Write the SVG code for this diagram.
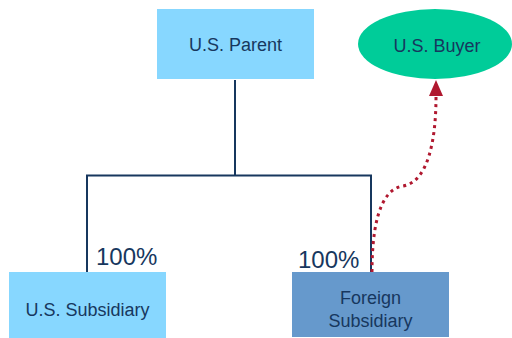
<svg xmlns="http://www.w3.org/2000/svg" width="512" height="338" viewBox="0 0 512 338">
<defs>
<style>
.t{font-family:"Liberation Sans",Arial,sans-serif;font-size:18px;fill:#17375E;text-anchor:middle}
.p{font-family:"Liberation Sans",Arial,sans-serif;font-size:24px;fill:#17375E}
.ln{fill:none;stroke:#17375E;stroke-width:2}
</style>
<marker id="ah" markerWidth="16" markerHeight="16" viewBox="0 0 16 16" refX="16" refY="8" orient="auto" markerUnits="userSpaceOnUse">
<path d="M0,1 L16,8 L0,15 Z" fill="#B0182F"/>
</marker>
</defs>
<rect width="512" height="338" fill="#FFFFFF"/>
<g id="connectors">
<path class="ln" d="M235,80 V175.5 M87,272 V175.5 H371 V272"/>
<path d="M372,272 C372,235 377,190 403,186 C428,182 436,140 436,97" fill="none" stroke="#B0182F" stroke-width="3" stroke-dasharray="3,4"/>
<path d="M436,80 L443,96 L429,96 Z" fill="#B0182F"/>
</g>
<g id="us-parent">
<rect x="157" y="9" width="157" height="70" fill="#87D7FF"/>
<text class="t" x="235.5" y="51">U.S. Parent</text>
</g>
<g id="us-buyer">
<ellipse cx="435" cy="44" rx="77" ry="35" fill="#00CC99"/>
<text class="t" x="437" y="52">U.S. Buyer</text>
</g>
<g id="us-subsidiary">
<rect x="9" y="272" width="157" height="66" fill="#87D7FF"/>
<text class="t" x="87.5" y="316">U.S. Subsidiary</text>
<text class="p" x="96" y="265">100%</text>
</g>
<g id="foreign-subsidiary">
<rect x="292" y="272" width="157" height="65" fill="#6699CC"/>
<text class="t" x="370.5" y="304">Foreign</text>
<text class="t" x="370.5" y="327">Subsidiary</text>
<text class="p" x="298" y="268">100%</text>
</g>
</svg>
